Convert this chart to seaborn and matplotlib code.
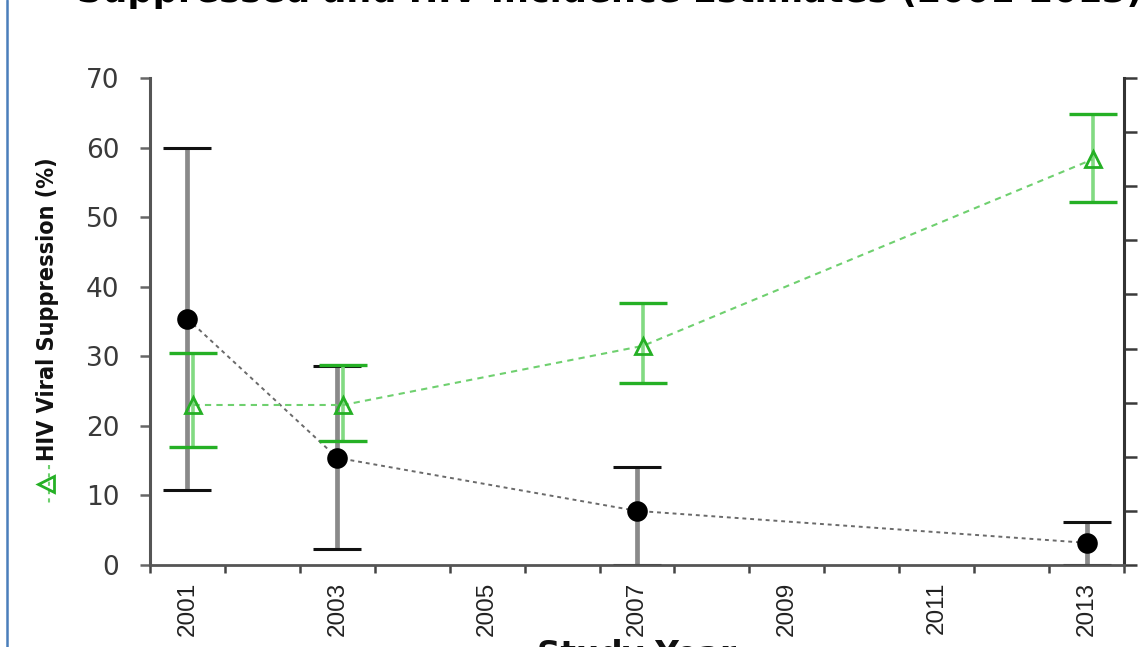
import matplotlib
matplotlib.use("Agg")
import matplotlib.pyplot as plt
import seaborn as sns
import numpy as np
import pandas as pd
from matplotlib import font_manager
from matplotlib.font_manager import FontProperties
from matplotlib.lines import Line2D
from matplotlib.ticker import FixedLocator, NullFormatter

# ---------------- data ----------------
years = [2001, 2003, 2007, 2013]
suppression = [23.0, 23.0, 31.5, 58.3]      # HIV viral suppression (%)
supp_low = [17.0, 17.8, 26.2, 52.2]
supp_high = [30.5, 28.7, 37.7, 64.8]
incidence = [4.55, 1.98, 1.00, 0.41]        # HIV incidence (right axis units)
inc_low = [1.39, 0.30, 0.00, 0.00]
inc_high = [7.70, 3.68, 1.81, 0.80]
tick_years = [2001, 2003, 2005, 2007, 2009, 2011, 2013]
left_ticks = [0, 10, 20, 30, 40, 50, 60, 70]
right_ticks = [0, 1, 2, 3, 4, 5, 6, 7, 8, 9]
title = "Suppressed and HIV Incidence Estimates (2001-2013)"
ylabel = "HIV Viral Suppression (%)"
xlabel = "Study Year"

df_supp = pd.DataFrame({"year": years, "value": suppression,
                        "low": supp_low, "high": supp_high})
df_inc = pd.DataFrame({"year": years, "value": incidence,
                       "low": inc_low, "high": inc_high})

# ---------------- style ----------------
sns.set_theme(style="white")
plt.rcParams["font.family"] = ["DejaVu Sans"]


def _weight(f):
    w = f.weight
    if isinstance(w, str):
        w = {"bold": 700, "semibold": 600, "demibold": 600, "heavy": 800,
             "black": 900, "normal": 400, "regular": 400, "medium": 500,
             "light": 300}.get(w.lower(), 400)
    return w


def narrow_bold_font():
    best, best_rank = None, 99
    prefs = ["liberation", "dejavu", "noto", "opensans", "open", "roboto", "lato"]
    for f in font_manager.fontManager.ttflist:
        fn = f.fname.lower().replace(" ", "").replace("_", "")
        if not ("narrow" in fn or "condensed" in fn):
            continue
        if any(k in fn for k in ("extra", "ultra", "semi", "italic", "oblique")):
            continue
        if _weight(f) < 650:
            continue
        rank = next((i for i, p in enumerate(prefs) if p in fn), len(prefs))
        if rank < best_rank:
            best, best_rank = f.fname, rank
    if best:
        return FontProperties(fname=best)
    return FontProperties(family=["Liberation Sans", "DejaVu Sans"], weight="bold")


FP_YLAB = narrow_bold_font()
FP_XTICK = FontProperties(family=["Liberation Sans", "DejaVu Sans"])

W, H = 1147, 647
fig = plt.figure(figsize=(W / 100, H / 100), dpi=100)
fig.patch.set_facecolor("white")


def px(x, y):
    return x / W, 1 - y / H


L, R, T, B = 150, 1124, 78, 565
ax2 = fig.add_axes([L / W, 1 - B / H, (R - L) / W, (B - T) / H])
ax = fig.add_axes([L / W, 1 - B / H, (R - L) / W, (B - T) / H], sharex=ax2)
ax.set_zorder(ax2.get_zorder() + 1)
ax.patch.set_visible(False)

GREEN_LINE = "#6fd06f"
GREEN_EDGE = "#25b025"
GREEN_BAR = "#82da82"
DX = 0.08

# --- incidence (black) on right axis ---
sns.lineplot(data=df_inc, x="year", y="value", ax=ax2, color="#6a6a6a",
             linestyle=(0, (2, 2)), linewidth=1.4, zorder=2)
eb = ax2.errorbar(df_inc["year"], df_inc["value"],
                  yerr=[df_inc["value"] - df_inc["low"], df_inc["high"] - df_inc["value"]],
                  fmt="none", ecolor="#8a8a8a", elinewidth=3.4, capsize=17,
                  capthick=2.2, zorder=3)
for cl in eb[1]:
    cl.set_markeredgecolor("#111111")
    cl.set_color("#111111")
sns.scatterplot(data=df_inc, x="year", y="value", ax=ax2, color="black",
                marker="o", s=220, edgecolor="black", linewidth=0, zorder=4)

# --- suppression (green) on left axis ---
xs = df_supp["year"] + DX
ebg = ax.errorbar(xs, df_supp["value"],
                  yerr=[df_supp["value"] - df_supp["low"], df_supp["high"] - df_supp["value"]],
                  fmt="none", ecolor=GREEN_BAR, elinewidth=2.6, capsize=17,
                  capthick=2.4, zorder=3)
for cl in ebg[1]:
    cl.set_markeredgecolor(GREEN_EDGE)
    cl.set_color(GREEN_EDGE)
sns.lineplot(x=xs, y=df_supp["value"], ax=ax, color=GREEN_LINE,
             linestyle=(0, (3, 2.5)), linewidth=1.5, zorder=4)
ax.plot(xs, df_supp["value"], linestyle="none", marker="^", markersize=12,
        markerfacecolor="none", markeredgecolor=GREEN_EDGE, markeredgewidth=2,
        zorder=5)

# ---------------- axes ----------------
ax.set_xlim(2000.5, 2013.5)
ax.set_ylim(0, 70)
ax2.set_ylim(0, 9)
for a in (ax, ax2):
    a.set_xlabel("")
    a.set_ylabel("")
    a.grid(False)

for s in ["top", "right"]:
    ax.spines[s].set_visible(False)
for s in ["top", "left", "bottom"]:
    ax2.spines[s].set_visible(False)
ax.spines["left"].set_color("#555555")
ax.spines["left"].set_linewidth(2.2)
ax.spines["bottom"].set_color("#555555")
ax.spines["bottom"].set_linewidth(2.0)
ax2.spines["right"].set_color("#333333")
ax2.spines["right"].set_linewidth(2.2)
ax2.spines["right"].set_visible(True)

ax.set_yticks(left_ticks)
ax.set_yticklabels([str(v) for v in left_ticks])
ax.tick_params(axis="y", which="major", direction="out", length=7, width=1.8,
               color="#666666", labelsize=19, labelcolor="#3a3a3a", pad=15,
               left=True, right=False)

ax.set_xticks(tick_years)
ax.set_xticklabels([str(v) for v in tick_years], rotation=90)
ax.xaxis.set_minor_locator(FixedLocator(np.arange(2000.5, 2014.0, 1.0)))
ax.xaxis.set_minor_formatter(NullFormatter())
ax.tick_params(axis="x", which="major", length=0, pad=12,
               labelcolor="#222222", bottom=True)
ax.tick_params(axis="x", which="minor", direction="out", length=6, width=1.8,
               color="#444444", bottom=True)

ax2.set_yticks(right_ticks)
ax2.yaxis.set_major_formatter(NullFormatter())
ax2.tick_params(axis="y", direction="out", length=9, width=1.8, color="#3a3a3a",
                right=True, left=False, labelright=False, labelleft=False)
ax2.tick_params(axis="x", bottom=False, labelbottom=False)


# ---------------- texts ----------------
def measure(txt, use="w"):
    fig.canvas.draw()
    bb = txt.get_window_extent(renderer=fig.canvas.get_renderer())
    return bb.width if use == "w" else bb.height


def fit(txt, target, use="w"):
    txt.set_fontsize(txt.get_fontsize() * target / measure(txt, use))


# x tick labels: about 54 px long
fp_tick = FP_XTICK.copy()
fp_tick.set_size(18)
for lab in ax.get_xticklabels():
    lab.set_fontproperties(fp_tick)
    lab.set_verticalalignment("top")
first = ax.get_xticklabels()[0]
new_size = 18 * 54 / measure(first, "h")
for lab in ax.get_xticklabels():
    lab.set_fontsize(new_size)

t_title = fig.text(*px(77, 2), title, ha="left", va="baseline",
                   fontweight="bold", fontsize=24, color="black")
fit(t_title, 1064)

fp_ylab = FP_YLAB.copy()
fp_ylab.set_size(22)
t_ylab = fig.text(*px(48, 309), ylabel, rotation=90, ha="center", va="center",
                  fontproperties=fp_ylab, color="#111111")
fit(t_ylab, 302, "h")

t_xlab = fig.text(*px(637, 639), xlabel, ha="center", va="top",
                  fontweight="bold", fontsize=24, color="#111111")
fit(t_xlab, 199)

# legend key for the suppression series next to the y-label
fig.add_artist(Line2D([49 / W, 49 / W], [1 - 465 / H, 1 - 503 / H],
                      color=GREEN_LINE, linestyle=(0, (2, 2)), linewidth=1.5))
fig.add_artist(Line2D([46 / W], [1 - 484 / H], marker="<", markersize=12,
                      markerfacecolor="none", markeredgecolor=GREEN_EDGE,
                      markeredgewidth=2, linestyle="none"))

# slide border line on the left
fig.add_artist(Line2D([7 / W, 7 / W], [0, 1], color="#4a7ebb", linewidth=1.8))

fig.savefig("out.png", dpi=100, facecolor="white")
